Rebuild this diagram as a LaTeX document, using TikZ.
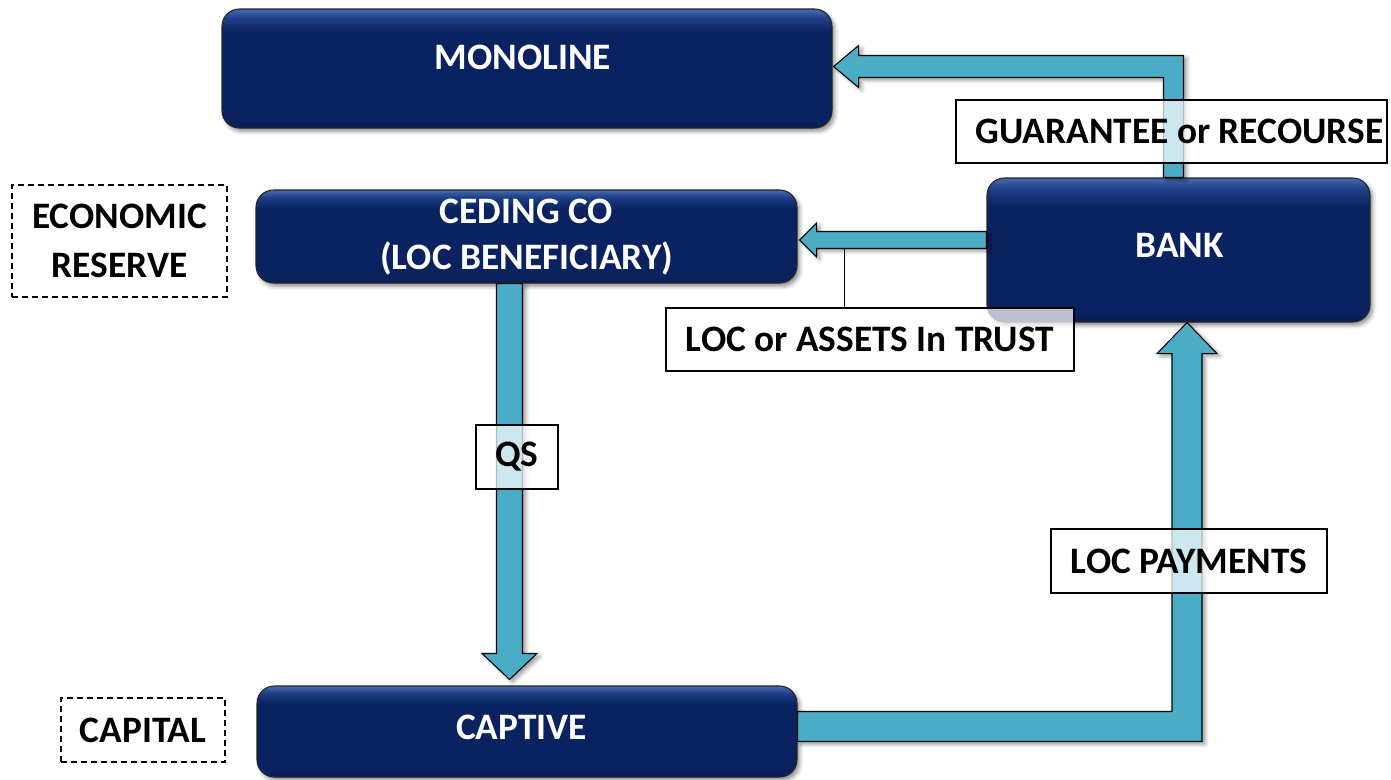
\documentclass[tikz,border=0pt]{standalone}
\usepackage{fontspec}
\setmainfont{Carlito}
\usetikzlibrary{calc,shadows.blur}
\definecolor{navyMain}{RGB}{10,34,96}
\definecolor{navyBot}{RGB}{8,27,78}
\definecolor{navyHi}{RGB}{30,62,134}
\definecolor{navyTop}{RGB}{70,106,176}
\definecolor{flowcyan}{RGB}{75,172,198}
\pgfdeclareverticalshading{glassnavy}{100bp}{color(0bp)=(navyBot); color(25bp)=(navyBot); color(28bp)=(navyMain); color(65bp)=(navyMain); color(71bp)=(navyHi); color(75bp)=(navyTop); color(100bp)=(navyTop)}
\newcommand{\pxu}{0.75pt}

\begin{document}
\begin{tikzpicture}[x=0.75pt,y=-0.75pt,
  entity/.style={draw=black!85, line width=0.8pt, rounded corners=13pt, shade, shading=glassnavy,
    blur shadow={shadow xshift=2pt,shadow yshift=-2.5pt,shadow blur radius=3pt,shadow opacity=45}, inner sep=0pt},
  entitytext/.style={text=white, font=\fontsize{28}{34}\selectfont\bfseries, align=center, inner sep=0pt},
  tag/.style={draw=black, line width=0.9pt, fill=white, fill opacity=0.72, text opacity=1, text=black,
    font=\fontsize{28}{34}\selectfont\bfseries, inner sep=0pt, align=center},
  note/.style={draw=black, line width=0.8pt, dash pattern=on 4.5pt off 3pt, text=black,
    font=\fontsize{28}{37}\selectfont\bfseries, inner sep=0pt, align=center},
  flow/.style={fill=flowcyan, draw=black, line width=0.8pt, line join=miter,
    blur shadow={shadow xshift=2.5pt,shadow yshift=-2pt,shadow blur radius=3pt,shadow opacity=40}},
  leader/.style={draw=black, line width=0.8pt},
]
\useasboundingbox (0,0) rectangle (1391,779);

% parties
\node[entity, minimum width=610*\pxu, minimum height=119*\pxu] (monoline) at (527,68.5) {};
\node[entity, minimum width=541*\pxu, minimum height=93*\pxu] (ceding) at (526.5,236.5) {};
\node[entity, minimum width=383*\pxu, minimum height=144*\pxu] (bank) at (1178.5,250) {};
\node[entity, minimum width=540*\pxu, minimum height=91*\pxu] (captive) at (527,731.5) {};

\node[entitytext] (monoline-t) at ($(monoline.center)+(-4,-11.5)$) {MONOLINE};
\node[entitytext] (ceding-t) at ($(ceding.center)+(0,0.5)$) {CEDING CO\\(LOC BENEFICIARY)};
\node[entitytext] (bank-t) at ($(bank.center)+(1,-5)$) {BANK};
\node[entitytext] (captive-t) at ($(captive.center)+(-5.5,-4.5)$) {CAPTIVE};

% bank -> monoline
\coordinate (t1) at ($(monoline.east)+(1,-2)$);
\coordinate (s1) at ($(bank.north)+(-5,0)$);
\coordinate (c1) at (s1 |- t1);
\draw[flow] (t1) -- ($(t1)+(25,-21)$) -- ($(t1)+(25,-11)$) -- ($(c1)+(10,-11)$) -- ($(s1)+(10,0)$)
  -- ($(s1)+(-10,0)$) -- ($(c1)+(-10,11)$) -- ($(t1)+(25,11)$) -- ($(t1)+(25,21)$) -- cycle;

% bank -> ceding co
\coordinate (t2) at ($(ceding.east)+(2,3.5)$);
\coordinate (b2) at (bank.west |- t2);
\draw[flow] (t2) -- ($(t2)+(17,-17)$) -- ($(t2)+(17,-8.5)$) -- ($(b2)+(0,-8.5)$) -- ($(b2)+(0,8.5)$)
  -- ($(t2)+(17,8.5)$) -- ($(t2)+(17,17)$) -- cycle;

% ceding co -> captive
\coordinate (t3) at ($(captive.north)+(-17.5,-6)$);
\coordinate (s3) at (t3 |- ceding.south);
\draw[flow] (t3) -- ($(t3)+(-27.5,-26)$) -- ($(t3)+(-13,-26)$) -- ($(s3)+(-13,0)$) -- ($(s3)+(13,0)$)
  -- ($(t3)+(13,-26)$) -- ($(t3)+(27.5,-26)$) -- cycle;

% captive -> bank
\coordinate (t4) at ($(bank.south)+(8.5,0)$);
\coordinate (h4) at ($(captive.east)+(0,-5)$);
\coordinate (c4) at (t4 |- h4);
\draw[flow] (t4) -- ($(t4)+(30,31)$) -- ($(t4)+(15,31)$) -- ($(c4)+(15,15)$) -- ($(h4)+(0,15)$)
  -- ($(h4)+(0,-15)$) -- ($(c4)+(-15,-15)$) -- ($(t4)+(-15,31)$) -- ($(t4)+(-30,31)$) -- cycle;

% flow labels
\node[tag, minimum width=431*\pxu, minimum height=63*\pxu] (guarantee) at (1171.5,131.5) {\hspace*{12pt}GUARANTEE or RECOURSE};
\node[tag, minimum width=408*\pxu, minimum height=63*\pxu] (trust) at (870,339.5) {LOC or ASSETS In TRUST};
\node[tag, minimum width=82*\pxu, minimum height=64*\pxu] (qs) at (517,457) {QS};
\node[tag, minimum width=276*\pxu, minimum height=64*\pxu] (payments) at (1189,561) {LOC PAYMENTS};

\coordinate (lead2) at ($(t2)+(45,8.5)$);
\draw[leader] (lead2) -- (lead2 |- trust.north);

% side notes
\node[note, minimum width=215*\pxu, minimum height=112*\pxu] (econ) at (119.5,241) {ECONOMIC\\RESERVE};
\node[note, minimum width=164*\pxu, minimum height=64*\pxu] (capital) at (143,730) {CAPITAL};
\end{tikzpicture}
\end{document}
